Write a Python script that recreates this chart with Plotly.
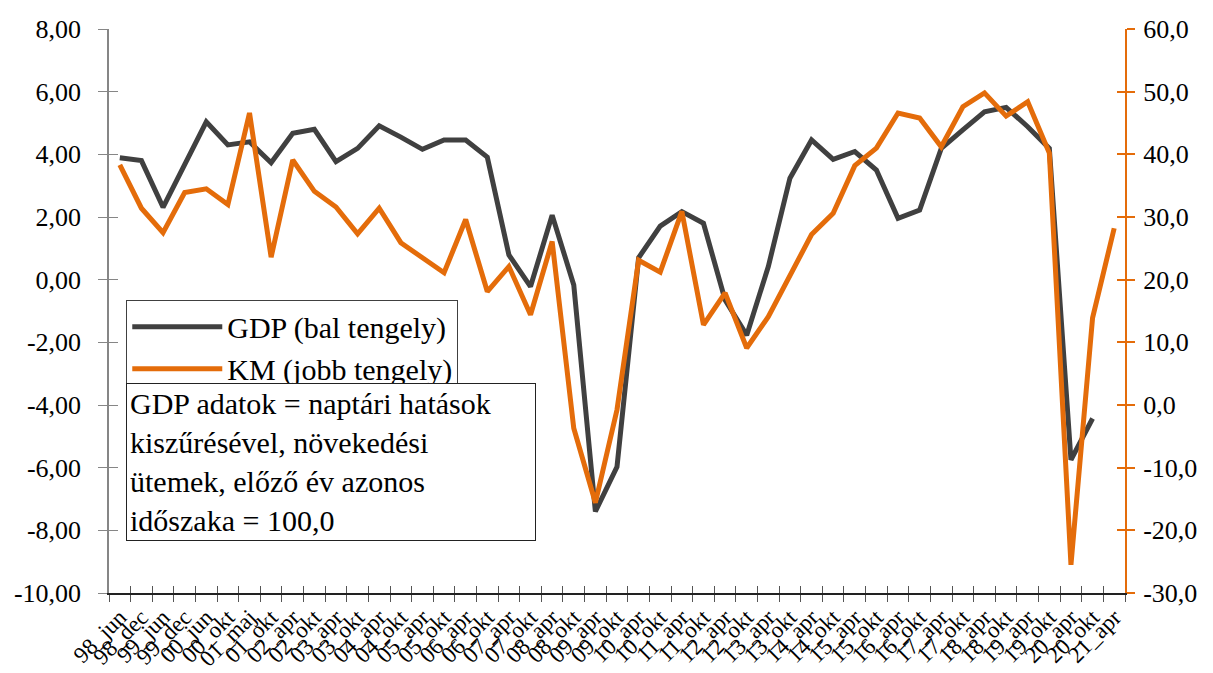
import plotly.graph_objects as go

periods = ["98_jun", "98_dec", "99_jun", "99_dec", "00_jun", "00_okt", "01_maj", "01_okt",
           "02_apr", "02_okt", "03_apr", "03_okt", "04_apr", "04_okt", "05_apr", "05_okt",
           "06_apr", "06_okt", "07_apr", "07_okt", "08_apr", "08_okt", "09_apr", "09_okt",
           "10_apr", "10_okt", "11_apr", "11_okt", "12_apr", "12_okt", "13_apr", "13_okt",
           "14_apr", "14_okt", "15_apr", "15_okt", "16_apr", "16_okt", "17_apr", "17_okt",
           "18_apr", "18_okt", "19_apr", "19_okt", "20_apr", "20_okt", "21_apr"]

gdp = [3.89, 3.80, 2.31, 3.68, 5.04, 4.30, 4.40, 3.73, 4.67, 4.80, 3.77, 4.19, 4.91, 4.55,
       4.16, 4.46, 4.46, 3.91, 0.79, -0.22, 2.06, -0.17, -7.40, -5.97, 0.70, 1.71, 2.17, 1.80,
       -0.65, -1.77, 0.42, 3.24, 4.46, 3.84, 4.09, 3.50, 1.96, 2.22, 4.19, 4.78, 5.36, 5.50,
       4.88, 4.19, -5.75, -4.43]

km = [38.3, 31.4, 27.5, 33.9, 34.5, 32.0, 46.6, 23.6, 39.1, 34.1, 31.6, 27.3, 31.4, 25.9,
      23.5, 21.1, 29.6, 18.1, 22.1, 14.4, 26.1, -3.7, -15.6, -0.75, 23.1, 21.2, 30.9, 12.8,
      17.9, 9.1, 14.1, 20.8, 27.2, 30.6, 38.2, 41.0, 46.6, 45.8, 41.2, 47.6, 49.8, 46.1,
      48.4, 40.2, -25.5, 13.9, 28.2]

left_ticks = [8, 6, 4, 2, 0, -2, -4, -6, -8, -10]
left_labels = ["8,00", "6,00", "4,00", "2,00", "0,00", "-2,00", "-4,00", "-6,00", "-8,00", "-10,00"]
right_ticks = [60, 50, 40, 30, 20, 10, 0, -10, -20, -30]
right_labels = ["60,0", "50,0", "40,0", "30,0", "20,0", "10,0", "0,0", "-10,0", "-20,0", "-30,0"]

series_names = ["GDP (bal tengely)", "KM (jobb tengely)"]
note_text = ("GDP adatok = naptári hatások<br>kiszűrésével, növekedési<br>"
             "ütemek, előző év azonos<br>időszaka = 100,0")

GDP_COLOR = "#404040"
KM_COLOR = "#E46C0A"
FONT = "Liberation Serif"

fig = go.Figure()
fig.add_trace(go.Scatter(x=periods[:len(gdp)], y=gdp, name=series_names[0], mode="lines",
                         line=dict(color=GDP_COLOR, width=5), xaxis="x", yaxis="y"))
fig.add_trace(go.Scatter(x=periods, y=km, name=series_names[1], mode="lines",
                         line=dict(color=KM_COLOR, width=5), xaxis="x", yaxis="y2"))
# invisible helpers so the overlay axes (inner half of the crossing tick marks) get drawn
fig.add_trace(go.Scatter(x=periods, y=km, mode="lines", line=dict(width=0), opacity=0,
                         showlegend=False, hoverinfo="skip", xaxis="x2", yaxis="y3"))
fig.add_trace(go.Scatter(x=periods, y=km, mode="lines", line=dict(width=0), opacity=0,
                         showlegend=False, hoverinfo="skip", xaxis="x2", yaxis="y4"))

tickfont = dict(family=FONT, size=26, color="black")
xrange = [-0.5, len(periods) - 0.5]

fig.update_layout(
    template="none",
    width=1205, height=665,
    margin=dict(l=101, r=88, t=21, b=80, autoexpand=False),
    paper_bgcolor="white", plot_bgcolor="white",
    font=dict(family=FONT, size=26, color="black"),
    xaxis=dict(type="category", categoryorder="array", categoryarray=periods, range=xrange,
               tickmode="linear", tick0=0, dtick=1,
               tickson="boundaries", ticks="outside", ticklen=7, tickcolor="#555555",
               showline=True, linecolor="#222222", linewidth=1.5, showgrid=False,
               tickangle=-45, tickfont=dict(family=FONT, size=23, color="black"),
               zeroline=False, automargin=False),
    xaxis2=dict(type="category", categoryorder="array", categoryarray=periods, range=xrange,
                tickmode="linear", tick0=0, dtick=1,
                overlaying="x", side="bottom", anchor="y", tickson="boundaries",
                ticks="inside", ticklen=7, tickcolor="#555555", showticklabels=False,
                showline=False, showgrid=False, zeroline=False, automargin=False),
    yaxis=dict(range=[-10, 8], tickvals=left_ticks, ticktext=left_labels, ticks="outside",
               ticklen=9, tickcolor="#868686", showline=True, linecolor="#868686",
               linewidth=1.5, showgrid=False, zeroline=False, tickfont=tickfont,
               ticklabelstandoff=12, automargin=False),
    yaxis2=dict(range=[-30, 60], tickvals=right_ticks, ticktext=right_labels, overlaying="y",
                side="right", ticks="outside", ticklen=8, tickcolor=KM_COLOR, tickwidth=1.5,
                showline=True, linecolor=KM_COLOR, linewidth=2, showgrid=False,
                zeroline=False, tickfont=tickfont, ticklabelstandoff=3, automargin=False),
    yaxis3=dict(range=[-10, 8], tickvals=left_ticks, overlaying="y", side="left",
                ticks="inside", ticklen=9, tickcolor="#868686", showticklabels=False,
                showline=False, showgrid=False, zeroline=False, automargin=False),
    yaxis4=dict(range=[-30, 60], tickvals=right_ticks, overlaying="y", side="right",
                ticks="inside", ticklen=8, tickcolor=KM_COLOR, tickwidth=1.5,
                showticklabels=False, showline=False, showgrid=False, zeroline=False,
                automargin=False),
    legend=dict(x=0.017, y=0.52, xanchor="left", yanchor="top", bgcolor="white",
                bordercolor="#404040", borderwidth=1, font=dict(family=FONT, size=30),
                tracegroupgap=0, itemwidth=90, entrywidth=368, entrywidthmode="pixels"),
    showlegend=True,
    annotations=[dict(text=note_text, xref="paper", yref="paper", x=0.017, y=0.372,
                      xanchor="left", yanchor="top", showarrow=False, align="left",
                      valign="top", width=402, height=150,
                      bordercolor="#222222", borderwidth=1, borderpad=3, bgcolor="white",
                      font=dict(family=FONT, size=30, color="black"))],
)

fig.write_html("out.html")
